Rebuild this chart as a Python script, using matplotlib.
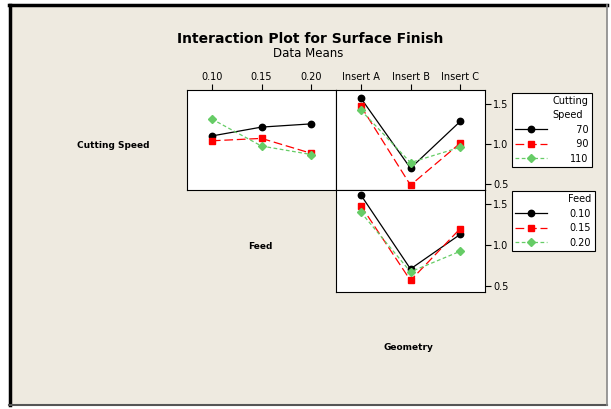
import numpy as np
import matplotlib.pyplot as plt
from matplotlib.patches import Rectangle
from matplotlib.lines import Line2D

feed_levels = ["0.10", "0.15", "0.20"]
geometry_levels = ["Insert A", "Insert B", "Insert C"]
speed_levels = ["70", "90", "110"]

# surface finish means, one line per cutting speed, x = feed
speed70_by_feed = [1.10, 1.21, 1.25]
speed90_by_feed = [1.04, 1.07, 0.885]
speed110_by_feed = [1.31, 0.975, 0.87]

# one line per cutting speed, x = geometry
speed70_by_geom = [1.57, 0.70, 1.28]
speed90_by_geom = [1.47, 0.49, 1.01]
speed110_by_geom = [1.42, 0.77, 0.96]

# one line per feed, x = geometry
feed010_by_geom = [1.61, 0.71, 1.13]
feed015_by_geom = [1.48, 0.57, 1.20]
feed020_by_geom = [1.40, 0.675, 0.925]

W, H = 611, 409
fig = plt.figure(figsize=(W / 100, H / 100), dpi=100, facecolor="white")
plt.rcParams["font.family"] = "DejaVu Sans"

bg = "#EEEAE0"
fig.patches.append(Rectangle((9 / W, 1 - 405 / H), 598 / W, 400 / H,
                             transform=fig.transFigure, facecolor=bg,
                             edgecolor="none", zorder=-5))
# window-like frame: dark top/left, grey bottom/right
fig.add_artist(Line2D([10 / W, 10 / W], [1 - 405 / H, 1 - 5 / H], color="black", lw=2.5, transform=fig.transFigure))
fig.add_artist(Line2D([9 / W, 607 / W], [1 - 5 / H, 1 - 5 / H], color="black", lw=2.5, transform=fig.transFigure))
fig.add_artist(Line2D([9 / W, 607 / W], [1 - 405 / H, 1 - 405 / H], color="#555555", lw=1.5, transform=fig.transFigure))
fig.add_artist(Line2D([607 / W, 607 / W], [1 - 405 / H, 1 - 5 / H], color="#888888", lw=1.2, transform=fig.transFigure))

styles = [
    dict(color="black", ls="-", marker="o", ms=4.6, lw=0.9),
    dict(color="red", ls=(0, (7, 3)), marker="s", ms=4.6, lw=0.9),
    dict(color="#66CC66", ls=(0, (3, 2)), marker="D", ms=4.2, lw=0.9),
]


def px_axes(x0, y0, x1, y1):
    ax = fig.add_axes([x0 / W, 1 - y1 / H, (x1 - x0) / W, (y1 - y0) / H])
    ax.set_facecolor("white")
    ax.set_xlim(-0.5, 2.5)
    ax.set_ylim(0.43, 1.67)
    for s in ax.spines.values():
        s.set_linewidth(0.8)
    ax.tick_params(labelsize=7, length=4, width=0.8, pad=2)
    return ax


x = np.arange(3)

ax_tl = px_axes(187, 90, 336, 190)
for ys, st in zip([speed70_by_feed, speed90_by_feed, speed110_by_feed], styles):
    ax_tl.plot(x, ys, **st)
ax_tl.xaxis.tick_top()
ax_tl.set_xticks(x)
ax_tl.set_xticklabels(feed_levels)
ax_tl.set_yticks([])

ax_tr = px_axes(336, 90, 485, 190)
speed_lines = []
for ys, st, lab in zip([speed70_by_geom, speed90_by_geom, speed110_by_geom], styles,
                       ["\u200770", "\u200790", "110"]):
    ln, = ax_tr.plot(x, ys, label=lab, **st)
    speed_lines.append(ln)
ax_tr.xaxis.tick_top()
ax_tr.set_xticks(x)
ax_tr.set_xticklabels(geometry_levels)
ax_tr.yaxis.tick_right()
ax_tr.set_yticks([0.5, 1.0, 1.5])
ax_tr.set_yticklabels(["0.5", "1.0", "1.5"])

ax_br = px_axes(336, 190, 485, 292)
feed_lines = []
for ys, st, lab in zip([feed010_by_geom, feed015_by_geom, feed020_by_geom], styles, feed_levels):
    ln, = ax_br.plot(x, ys, label=lab, **st)
    feed_lines.append(ln)
ax_br.set_xticks([])
ax_br.yaxis.tick_right()
ax_br.set_yticks([0.5, 1.0, 1.5])
ax_br.set_yticklabels(["0.5", "1.0", "1.5"])

fig.text(310 / W, 1 - 43 / H, "Interaction Plot for Surface Finish", ha="center",
         va="baseline", fontsize=10, fontweight="bold")
fig.text(308 / W, 1 - 57 / H, "Data Means", ha="center", va="baseline", fontsize=8.5)
fig.text(113 / W, 1 - 148 / H, "Cutting Speed", ha="center", va="baseline", fontsize=6.5, fontweight="bold")
fig.text(260 / W, 1 - 249 / H, "Feed", ha="center", va="baseline", fontsize=6.5, fontweight="bold")
fig.text(408 / W, 1 - 350 / H, "Geometry", ha="center", va="baseline", fontsize=6.5, fontweight="bold")

leg_kw = dict(loc="upper left", frameon=True, fancybox=False, fontsize=7,
              title_fontsize=7, handlelength=3.3, handletextpad=2.3,
              borderpad=0.35, labelspacing=0.45, alignment="right",
              borderaxespad=0,
              edgecolor="black", facecolor="white", framealpha=1)
leg1 = fig.legend(handles=speed_lines, title="Cutting\nSpeed",
                  bbox_to_anchor=(512 / W, 1 - 93 / H), **leg_kw)
leg2 = fig.legend(handles=feed_lines, title="Feed",
                  bbox_to_anchor=(512 / W, 1 - 191 / H), **leg_kw)
for leg in (leg1, leg2):
    leg.get_frame().set_linewidth(0.8)
    leg.get_title().set_linespacing(1.5)

fig.savefig("out.png", dpi=100, facecolor="white")
